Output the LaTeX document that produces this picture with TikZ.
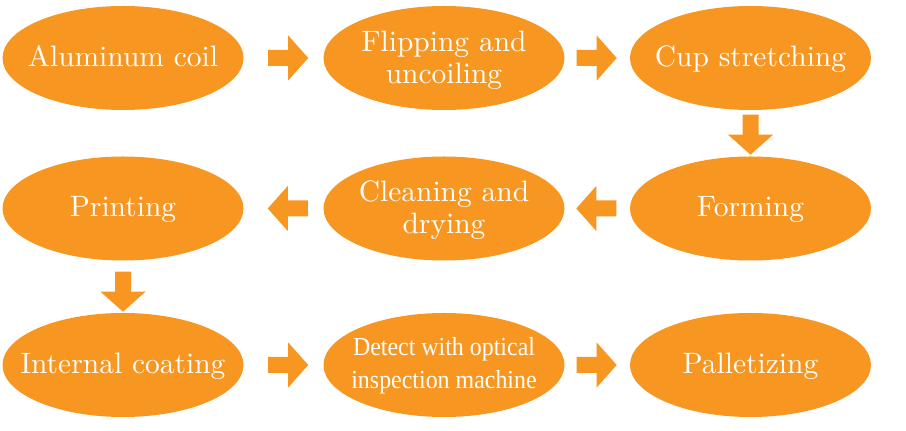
\documentclass[tikz,border=0pt]{standalone}
\usepackage{fontspec}
\setmainfont{lmroman10-regular}[Extension=.otf]
\newfontfamily\detectfont{Liberation Serif}
\usetikzlibrary{shapes.geometric,calc}
\definecolor{brandorange}{RGB}{247,150,32}
\newcommand\ctext[1]{\makebox[0pt]{\begin{tabular}{@{}c@{}}#1\end{tabular}}}
\newcommand\stext[1]{\raisebox{-2pt}[\height][\depth]{\ctext{#1}}}
\newcommand\dtext[1]{\raisebox{-3pt}[\height][\depth]{\ctext{#1}}}
\tikzset{
  stage/.style={ellipse, fill=brandorange, draw=none, text=white, inner sep=0pt,
    minimum width=241pt, minimum height=104pt,
    font=\fontsize{29.5}{32}\selectfont},
  blockarr/.pic={\fill[brandorange] (-20,-8) -- (0,-8) -- (0,-22.5) -- (20,0)
    -- (0,22.5) -- (0,8) -- (-20,8) -- cycle;}
}
\begin{document}
\begin{tikzpicture}[x=1pt,y=1pt]
\useasboundingbox (0,0) rectangle (906,431);
% row 1
\node[stage] (e1) at (123,373) {\stext{Aluminum coil}};
\node[stage] (e2) at (444,373) {\dtext{Flipping and\\uncoiling}};
\node[stage] (e3) at (750.5,373) {\stext{Cup stretching}};
% row 2
\node[stage] (e4) at (750.5,222.5) {\stext{Forming}};
\node[stage] (e5) at (444,222.5) {\dtext{Cleaning and\\drying}};
\node[stage] (e6) at (123,222.5) {\stext{Printing}};
% row 3
\node[stage] (e7) at (123,66) {\stext{Internal coating}};
\node[stage, font=\detectfont\fontsize{26}{33}\selectfont] (e8) at (444,66)
  {\scalebox{0.92}[1]{\ctext{Detect with optical\\inspection machine}}};
\node[stage] (e9) at (750.5,66) {\stext{Palletizing}};
% block arrows
\coordinate (a12) at ($(e1.east)+(44.5,0)$);
\coordinate (a23) at ($(e2.east)+(32,0)$);
\coordinate (a34) at ($(e3.south)+(0,-24.5)$);
\coordinate (a45) at ($(e4.west)+(-33.5,0)$);
\coordinate (a56) at ($(e5.west)+(-35.5,0)$);
\coordinate (a67) at ($(e6.south)+(0,-31)$);
\coordinate (a78) at ($(e7.east)+(44.5,0)$);
\coordinate (a89) at ($(e8.east)+(32,0)$);
\pic at (a12) {blockarr};
\pic at (a23) {blockarr};
\pic[rotate=-90] at (a34) {blockarr};
\pic[rotate=180] at (a45) {blockarr};
\pic[rotate=180] at (a56) {blockarr};
\pic[rotate=-90] at (a67) {blockarr};
\pic at (a78) {blockarr};
\pic at (a89) {blockarr};
\end{tikzpicture}
\end{document}
